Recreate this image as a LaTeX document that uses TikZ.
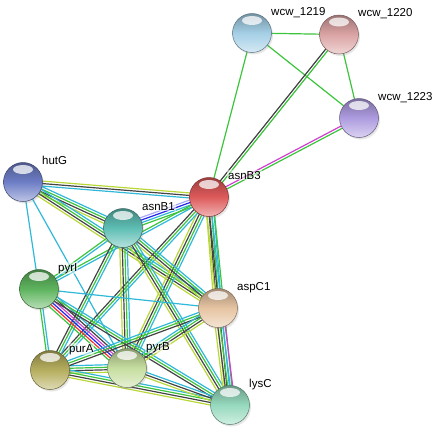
\documentclass[tikz,border=0pt]{standalone}
\usepackage{fontspec}
\setmainfont{Liberation Sans}
\usetikzlibrary{calc, shadows, positioning}

\definecolor{cN}{HTML}{3CC43C}
\definecolor{cF}{HTML}{F03030}
\definecolor{cC}{HTML}{2424EE}
\definecolor{cX}{HTML}{444444}
\definecolor{cE}{HTML}{D040D0}
\definecolor{cD}{HTML}{30B8D8}
\definecolor{cT}{HTML}{B8D838}
\definecolor{cH}{HTML}{A8A8F8}

\definecolor{bWa}{HTML}{A4CFE6}
\definecolor{bWb}{HTML}{DCA4A4}
\definecolor{bWc}{HTML}{AE9CE0}
\definecolor{bAsnC}{HTML}{DE5A5A}
\definecolor{bHut}{HTML}{6E7EC6}
\definecolor{bAsnA}{HTML}{5EBEB4}
\definecolor{bPyrI}{HTML}{5EB45E}
\definecolor{bAsp}{HTML}{E6C4A2}
\definecolor{bPurA}{HTML}{B6AE5E}
\definecolor{bPyrB}{HTML}{C6DEA0}
\definecolor{bLys}{HTML}{96DABE}

\pgfdeclarelayer{bg}
\pgfsetlayers{bg,main}

\tikzset{
  ball/.style={circle, minimum size=39pt, inner sep=0pt,
    draw=#1!55!black, line width=0.5pt,
    top color=#1!70!black, bottom color=#1!45!white, middle color=#1,
    drop shadow={opacity=0.2, shadow xshift=1.5pt, shadow yshift=-2pt},
    path picture={\fill[white, opacity=0.75]
      ([yshift=-7pt]path picture bounding box.north) ellipse (10pt and 4.5pt);}},
  lbl/.style={font=\fontsize{11.5}{13}\selectfont, inner sep=1pt,
    fill=white, fill opacity=0.5, text opacity=1},
  evid/.style={line width=1.2pt}
}

\newcommand{\prot}[5]{%
  \node[ball=#4] (#1) at (#2,#3) {};
  \node[lbl, anchor=base west] (#1-l) at ([shift={(18pt,18pt)}]#1.center) {#5};
}

\newcommand{\link}[3]{%
  \foreach \c [count=\n] in {#3} {\xdef\nlines{\n}}
  \foreach \c [count=\i] in {#3} {
    \pgfmathsetmacro\o{(\i-(\nlines+1)/2)*2.5}
    \draw[evid, \c] ($(#1.center)!\o pt!90:(#2.center)$) -- ($(#2.center)!\o pt!-90:(#1.center)$);
  }
}

\begin{document}
\begin{tikzpicture}[x=1pt, y=-1pt]
  \useasboundingbox (0,0) rectangle (443,432);

  \prot{wcw1219}{252}{33}{bWa}{wcw\_1219}
  \prot{wcw1220}{339}{34.5}{bWb}{wcw\_1220}
  \prot{wcw1223}{359}{118}{bWc}{wcw\_1223}
  \prot{asnB3}{209}{197}{bAsnC}{asnB3}
  \prot{hutG}{23}{182}{bHut}{hutG}
  \prot{asnB1}{123}{228}{bAsnA}{asnB1}
  \prot{pyrI}{39}{289}{bPyrI}{pyrI}
  \prot{aspC1}{218}{308}{bAsp}{aspC1}
  \prot{purA}{50}{370}{bPurA}{purA}
  \prot{pyrB}{127}{368}{bPyrB}{pyrB}
  \prot{lysC}{230}{405}{bLys}{lysC}

  \begin{pgfonlayer}{bg}
    \link{wcw1219}{wcw1220}{cN}
    \link{wcw1219}{wcw1223}{cN}
    \link{wcw1219}{asnB3}{cN}
    \link{wcw1220}{wcw1223}{cN}
    \link{wcw1220}{asnB3}{cX,cN}
    \link{wcw1223}{asnB3}{cE,cN}

    \link{hutG}{asnB3}{cD,cX,cT}
    \link{hutG}{asnB1}{cT,cX,cN,cD}
    \link{hutG}{aspC1}{cT,cX,cN,cD}
    \link{hutG}{pyrI}{cD}
    \link{hutG}{pyrB}{cD}

    \link{asnB1}{asnB3}{cN,cD,cC,cH}
    \link{asnB3}{aspC1}{cT,cX,cN,cD}
    \link{asnB3}{lysC}{cT,cX,cD,cN}
    \link{asnB3}{pyrB}{cT,cX,cN,cD}
    \link{asnB3}{purA}{cX,cN,cD}
    \link{asnB3}{pyrI}{cN,cD}

    \link{asnB1}{aspC1}{cT,cX,cN,cD}
    \link{asnB1}{lysC}{cT,cX,cN,cD}
    \link{asnB1}{pyrB}{cT,cX,cN,cD}
    \link{asnB1}{purA}{cX,cN,cD}
    \link{asnB1}{pyrI}{cN,cD}

    \link{pyrI}{pyrB}{cN,cF,cC,cE,cX,cD}
    \link{pyrI}{purA}{cN,cD}
    \link{pyrI}{aspC1}{cD}
    \link{pyrI}{lysC}{cX,cN,cD}

    \link{purA}{pyrB}{cT,cX,cN,cD}
    \link{purA}{lysC}{cT,cX,cN,cD}
    \link{purA}{aspC1}{cX,cN,cD}
    \link{pyrB}{aspC1}{cT,cX,cN,cD}
    \link{pyrB}{lysC}{cT,cX,cD}
    \link{aspC1}{lysC}{cT,cX,cN,cD,cE}
  \end{pgfonlayer}
\end{tikzpicture}
\end{document}
